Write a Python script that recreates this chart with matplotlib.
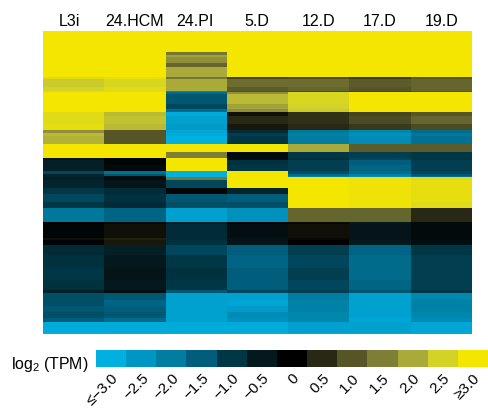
import numpy as np
import matplotlib
matplotlib.use("Agg")
import matplotlib.pyplot as plt
from matplotlib.colors import LinearSegmentedColormap
from matplotlib.transforms import ScaledTranslation

plt.rcParams['font.family'] = ['Liberation Sans', 'DejaVu Sans']
plt.rcParams['mathtext.fontset'] = 'custom'
plt.rcParams['mathtext.rm'] = 'Liberation Sans'

columns = ["L3i", "24.HCM", "24.PI", "5.D", "12.D", "17.D", "19.D"]
tick_labels = ["\u2264\u22123.0", "\u22122.5", "\u22122.0", "\u22121.5", "\u22121.0", "\u22120.5",
               "0", "0.5", "1.0", "1.5", "2.0", "2.5", "\u22653.0"]
levels = [-3, -2.5, -2, -1.5, -1, -0.5, 0, 0.5, 1, 1.5, 2, 2.5, 3]
level_colors = ["#00b0e0", "#0096c3", "#007da0", "#005f7d", "#003746", "#05191e", "#000000",
                "#282814", "#555528", "#7d7d37", "#aaaa3c", "#d2d228", "#f5e600"]

# number of genes in each block of rows
row_counts = [21, 3, 2, 6, 4, 10, 2, 8, 4, 1, 2, 10, 5, 3, 4, 8, 6, 3, 3, 8, 8, 6,
              2, 5, 6, 3, 2, 1, 3, 7, 6, 8, 6, 14,
              2, 14, 2, 5,
              10, 13, 12, 10, 3,
              7, 6, 6, 6, 4,
              11, 1]
# values per column, one row per block of row_counts
row_values = [
    [3, 3, 3, 3, 3, 3, 3],
    [3, 3, 1.4, 3, 3, 3, 3],
    [3, 3, 1.9, 3, 3, 3, 3],
    [3, 3, 1.7, 3, 3, 3, 3],
    [3, 3, 1.2, 3, 3, 3, 3],
    [3, 3, 2.0, 3, 3, 3, 3],
    [2.7, 2.8, 1.4, 0.8, 0.9, 0.7, 1.0],
    [2.4, 2.6, 2.0, 1.3, 1.3, 1.1, 1.2],
    [2.5, 2.7, 2.0, 1.1, 1.2, 1.0, 1.2],
    [2.7, 2.8, 1.3, 1.0, 0.9, 0.8, 1.0],
    [3, 3, -1.7, 1.7, 2.6, 3, 3],
    [3, 3, -1.4, 2.2, 2.6, 3, 3],
    [3, 3, -1.2, 1.9, 2.5, 3, 3],
    [3, 3, -1.7, 1.7, 2.4, 3, 3],
    [2.7, 2.2, -2.9, 0.2, 0.6, 0.8, 1.0],
    [2.7, 2.3, -2.7, 0.5, 0.6, 0.9, 1.2],
    [2.8, 2.2, -2.6, 0.3, 0.5, 0.7, 0.9],
    [1.7, 1.0, -2.8, -0.8, -1.9, -2.2, -1.7],
    [2.2, 1.0, -2.9, -1.1, -2.1, -2.4, -1.9],
    [2.1, 1.0, -3.0, -1.0, -2.0, -2.3, -1.8],
    [3, 3, 3, 3, 2.0, 1.1, 1.1],
    [3, 3, 1.5, -0.2, -1.0, -1.1, -1.0],
    [-0.4, 0.0, 3, -0.3, -0.9, -1.2, -1.0],
    [-0.6, -0.1, 3, -0.9, -1.1, -1.5, -1.1],
    [-0.6, -0.2, 3, -1.0, -1.1, -1.6, -1.1],
    [-1.2, -1.8, -3.0, 3, -1.3, -1.7, -1.2],
    [-0.7, -1.4, -3.0, 3, -1.7, -2.1, -1.4],
    [-0.7, -0.3, -3.0, 3, -2.1, -2.3, -1.8],
    [-0.6, -0.3, 1.4, 3, 3, 2.9, 2.7],
    [-0.7, -0.4, -1.2, 3, 3, 2.9, 2.8],
    [-1.0, -0.8, -0.1, -0.7, 3, 2.9, 2.8],
    [-1.2, -0.9, -1.4, -1.5, 3, 2.9, 2.8],
    [-1.0, -0.8, -1.3, -1.3, 3, 2.9, 2.7],
    [-1.9, -1.6, -2.7, -2.4, 1.2, 1.2, 0.5],
    [0.0, 0.1, -0.6, -0.1, 0.1, -0.5, -0.2],
    [-0.1, 0.2, -0.8, -0.3, 0.2, -0.4, -0.2],
    [0.2, 0.4, -0.8, -0.4, 0.1, -0.4, -0.2],
    [-0.1, 0.3, -0.9, -0.4, 0.0, -0.5, -0.3],
    [-0.8, -0.6, -1.2, -1.5, -1.1, -1.6, -1.0],
    [-0.9, -0.5, -1.0, -1.6, -1.2, -1.7, -1.1],
    [-1.0, -0.4, -0.9, -1.5, -1.1, -1.7, -1.1],
    [-0.9, -0.5, -1.0, -1.5, -1.2, -1.6, -1.1],
    [-0.6, -0.3, -1.4, -1.2, -1.1, -1.4, -1.0],
    [-1.3, -1.4, -2.7, -2.7, -2.0, -2.7, -2.2],
    [-1.3, -1.6, -2.7, -2.8, -2.1, -2.7, -2.1],
    [-1.4, -1.5, -2.7, -2.6, -2.1, -2.7, -2.1],
    [-1.3, -1.4, -2.7, -2.3, -2.2, -2.7, -2.2],
    [-1.5, -1.7, -2.7, -2.4, -2.2, -2.8, -2.3],
    [-2.9, -2.9, -2.9, -2.9, -2.7, -2.7, -2.8],
    [-3.0, -3.0, -3.0, -3.0, -2.9, -2.9, -2.9],
]
# horizontal nudges of the column captions, in pixels
caption_nudge = [-4, 0, -1.5, -1, 0, 0, 0]

cmap = LinearSegmentedColormap.from_list(
    "heat", [((l + 3) / 6, c) for l, c in zip(levels, level_colors)])

matrix = np.repeat(np.array(row_values, dtype=float), row_counts, axis=0)

W, H = 488, 408
fig = plt.figure(figsize=(W / 100, H / 100), dpi=100)

x0, x1, y0, y1 = 43, 472, 31, 334
ax = fig.add_axes([x0 / W, 1 - y1 / H, (x1 - x0) / W, (y1 - y0) / H])
ax.imshow(matrix, aspect="auto", cmap=cmap, vmin=-3, vmax=3, interpolation="nearest")
ax.set_xticks(range(len(columns)))
ax.set_xticklabels(columns, fontsize=11.5)
ax.xaxis.tick_top()
ax.tick_params(axis="x", length=0, pad=1.5)
for t, dx in zip(ax.get_xticklabels(), caption_nudge):
    t.set_transform(t.get_transform() + ScaledTranslation(dx / 100, 0, fig.dpi_scale_trans))
ax.set_yticks([])
for s in ax.spines.values():
    s.set_visible(False)

cx0, cx1, cy0, cy1 = 96, 488, 350, 367
cax = fig.add_axes([cx0 / W, 1 - cy1 / H, (cx1 - cx0) / W, (cy1 - cy0) / H])
cax.imshow(np.array(levels)[None, :], aspect="auto", cmap=cmap, vmin=-3, vmax=3,
           interpolation="nearest")
cax.set_yticks([])
cax.set_xticks(range(len(levels)))
cax.set_xticklabels(tick_labels, fontsize=11, rotation=45, ha="right", va="top",
                    rotation_mode="anchor")
offset = ScaledTranslation(7 / 72, 0, fig.dpi_scale_trans)
for t in cax.get_xticklabels():
    t.set_transform(t.get_transform() + offset)
cax.tick_params(axis="x", length=0, pad=3)
for s in cax.spines.values():
    s.set_visible(False)

fig.text(11 / W, 1 - 369 / H, "log$_{\\mathrm{2}}$ (TPM)", fontsize=11.4, ha="left", va="baseline")

fig.savefig("out.png", dpi=100)
print(sum(row_counts), len(row_counts), len(row_values))
